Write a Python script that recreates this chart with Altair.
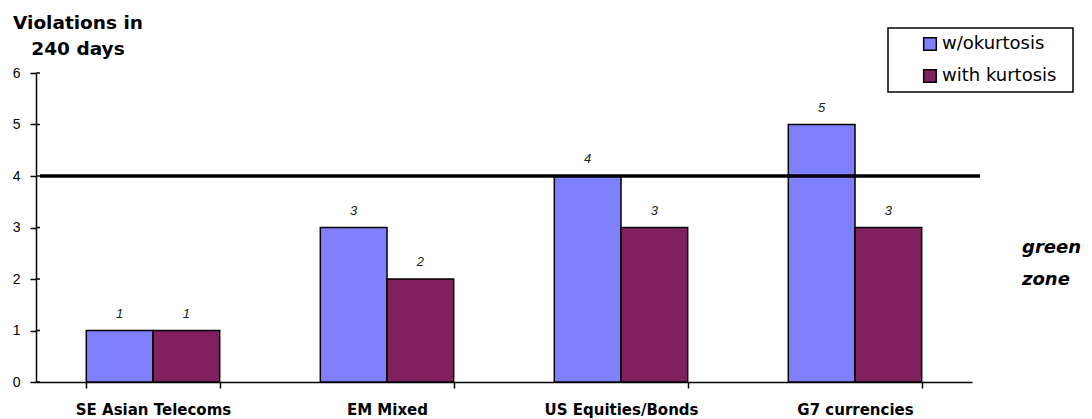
import altair as alt
import pandas as pd

categories = ["SE Asian Telecoms", "EM Mixed", "US Equities/Bonds", "G7 currencies"]
series = ["w/okurtosis", "with kurtosis"]
without_kurtosis = [1, 3, 4, 5]
with_kurtosis = [1, 2, 3, 3]
colors = ["#8080ff", "#80205f"]
y_ticks = [0, 1, 2, 3, 4, 5, 6]
threshold = 4
title_lines = ["Violations in", "240 days"]
zone_lines = ["green", "zone"]

rows = []
for c, a, b in zip(categories, without_kurtosis, with_kurtosis):
    rows.append({"category": c, "series": series[0], "value": a})
    rows.append({"category": c, "series": series[1], "value": b})
df = pd.DataFrame(rows)

W, H = 936, 309
FONT = "Liberation Sans"
WIDE = "DejaVu Sans"

x_axis = alt.Axis(title=None, grid=False, tickBand="extent", tickSize=6, tickColor="black",
                  tickWidth=1.5, domainColor="black", domainWidth=1.5,
                  labelFont=WIDE, labelFontWeight="bold", labelFontSize=15,
                  labelColor="black", labelPadding=14, labelAngle=0)
y_axis = alt.Axis(title=None, values=y_ticks, grid=False, tickSize=6, tickColor="black",
                  tickWidth=1.5, domainColor="black", domainWidth=1.5,
                  labelFontSize=14, labelColor="black", labelPadding=10, labelFont=FONT)
y_scale = alt.Scale(domain=[0, 6], nice=False)

x_enc = alt.X("category:N", sort=categories,
              scale=alt.Scale(paddingInner=0.43, paddingOuter=0.215), axis=x_axis)
xoff = alt.XOffset("series:N", sort=series)
y_enc = alt.Y("value:Q", scale=y_scale, axis=y_axis)

bars = alt.Chart(df).mark_bar(stroke="black", strokeWidth=1.5).encode(
    x=x_enc, xOffset=xoff, y=y_enc,
    color=alt.Color("series:N", sort=series, scale=alt.Scale(domain=series, range=colors),
                    legend=alt.Legend(title=None, orient="none", legendX=885, legendY=-38,
                                      symbolType="square", symbolSize=160, symbolStrokeColor="black",
                                      symbolStrokeWidth=1.5, symbolOpacity=1, labelFontSize=18,
                                      labelFont=WIDE, labelColor="black", labelOffset=3,
                                      rowPadding=12, padding=0)),
)

labels = alt.Chart(df).mark_text(fontStyle="italic", fontSize=13, baseline="middle", dy=-17,
                                 color="#222222", font=FONT).encode(
    x=x_enc, xOffset=xoff, y=y_enc, text="value:Q")

ytick_df = pd.DataFrame({"value": y_ticks})
inner_ticks = alt.Chart(ytick_df).mark_rule(color="black", strokeWidth=1.5).encode(
    y=y_enc, x=alt.value(0), x2=alt.value(4))

rule = alt.Chart(pd.DataFrame({"value": [threshold]})).mark_rule(color="black", strokeWidth=3.5).encode(
    y=y_enc, x=alt.value(4), x2=alt.value(944))

one = alt.Data(values=[{}])
box = alt.Chart(one).mark_rect(fill="transparent", stroke="black", strokeWidth=1.5).encode(
    x=alt.value(852), x2=alt.value(1037), y=alt.value(-45), y2=alt.value(19))

def txt(s, x, y, size, italic=False, align="center"):
    kw = dict(fontWeight="bold", fontSize=size, font=WIDE, align=align,
              baseline="middle", color="black")
    if italic:
        kw["fontStyle"] = "italic"
    return alt.Chart(one).mark_text(**kw).encode(
        x=alt.value(x), y=alt.value(y), text=alt.value(s))

title1 = txt(title_lines[0], 42, -50, 18.5)
title2 = txt(title_lines[1], 42, -24, 18.5)
zone1 = txt(zone_lines[0], 986, 175, 18, italic=True, align="left")
zone2 = txt(zone_lines[1], 986, 207, 18, italic=True, align="left")

chart = alt.layer(bars, labels, inner_ticks, rule, box, title1, title2, zone1, zone2).properties(
    width=W, height=H,
    autosize=alt.AutoSizeParams(type="none"),
    padding={"left": 28, "top": 65, "right": 112, "bottom": 40},
).configure(font=FONT).configure_view(stroke=None, strokeWidth=0)

chart.save("out.html", embed_options={"renderer": "svg", "actions": False})
